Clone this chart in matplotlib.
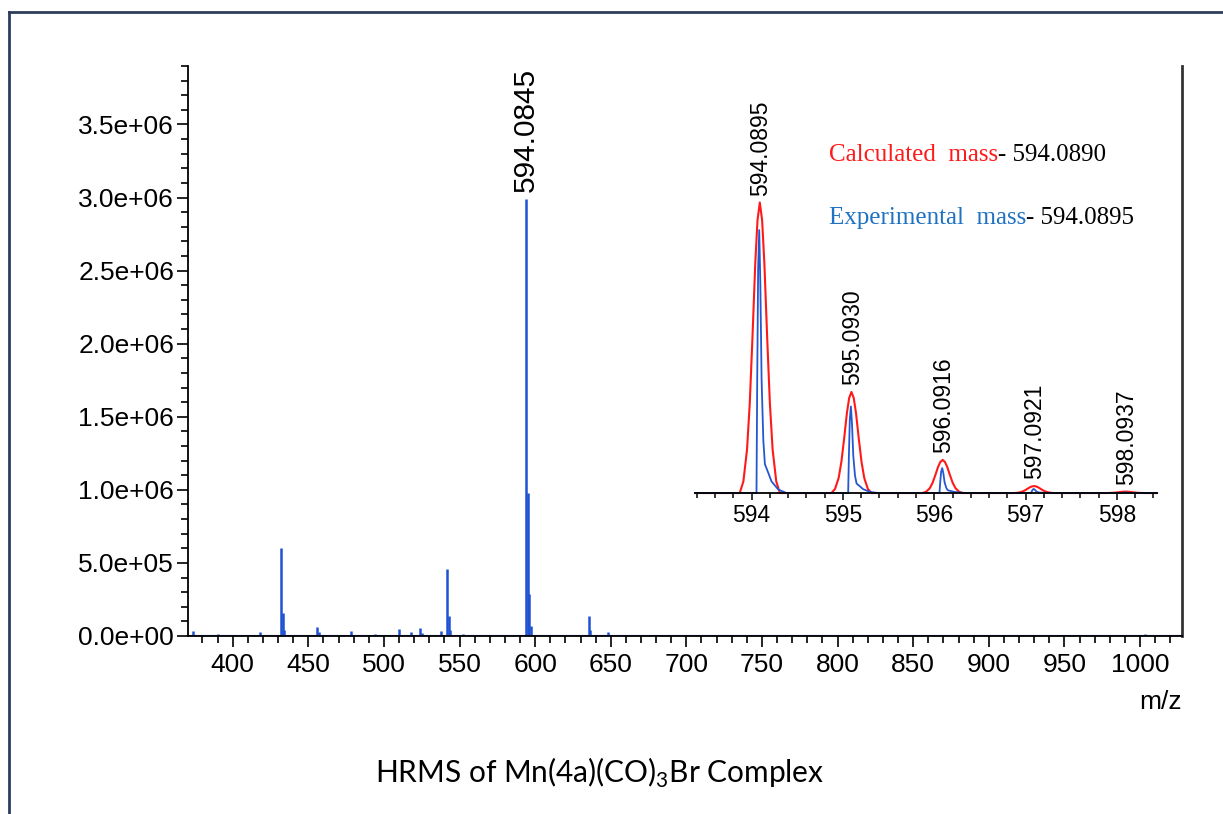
import matplotlib
matplotlib.use('Agg')
import matplotlib.pyplot as plt
from matplotlib.lines import Line2D
from matplotlib.ticker import MultipleLocator, FuncFormatter

# main spectrum (stick peaks), intensities in counts
main_mz = [374, 376, 390, 405, 410, 418, 432, 433, 434, 449, 456, 457,
           478, 494, 510, 518, 524, 525, 538, 542, 543, 544, 552, 569,
           594.08, 595.09, 596.09, 597.09, 617, 622, 635.5, 636.5, 648, 649,
           1003, 1006]
main_int = [0.035e6, 0.01e6, 0.012e6, 0.008e6, 0.01e6, 0.025e6, 0.60e6, 0.16e6, 0.04e6, 0.008e6, 0.06e6, 0.03e6,
            0.032e6, 0.015e6, 0.05e6, 0.025e6, 0.058e6, 0.02e6, 0.033e6, 0.455e6, 0.137e6, 0.04e6, 0.012e6, 0.008e6,
            2.99e6, 0.98e6, 0.29e6, 0.07e6, 0.01e6, 0.01e6, 0.137e6, 0.04e6, 0.03e6, 0.01e6,
            0.012e6, 0.01e6]
main_label = '594.0845'
main_label_mz = 594.08

# inset: isotope pattern (relative intensity, calculated = red, experimental = blue)
iso_labels = ['594.0895', '595.0930', '596.0916', '597.0921', '598.0937']
calc_centers = [594.0895, 595.0930, 596.0916, 597.0921, 598.0937]
calc_heights = [100, 34.8, 11.4, 2.4, 0.5]
exp_centers = [594.083, 595.087, 596.087, 597.09, 598.09]
exp_heights = [90.5, 29.8, 8.6, 1.4, 0.2]

# peak shapes (offset in m/z, fraction of peak height)
calc_shape_dx = [-0.22, -0.18, -0.14, -0.11, -0.08, -0.05, -0.025, 0, 0.025, 0.05, 0.08, 0.11, 0.14, 0.18, 0.22]
calc_shape_f = [0, 0.04, 0.15, 0.31, 0.54, 0.79, 0.94, 1.0, 0.94, 0.79, 0.54, 0.31, 0.15, 0.04, 0]
exp_shape_dx = [-0.03, -0.022, -0.012, 0, 0.012, 0.026, 0.045, 0.062, 0.1, 0.135, 0.21, 0.3]
exp_shape_f = [0, 0.43, 0.85, 1.0, 0.8, 0.43, 0.2, 0.11, 0.076, 0.044, 0.013, 0]

BLUE = '#1f52d3'
INSET_BLUE = '#2457d0'
RED = '#ff1a1a'

plt.rcParams['font.family'] = 'Liberation Sans'
plt.rcParams['mathtext.fontset'] = 'custom'
plt.rcParams['mathtext.rm'] = 'Lato'

fig = plt.figure(figsize=(12.23, 8.14), dpi=100)

# outer frame (left and top edges only)
frame_c = '#2e3d5c'
fig.add_artist(Line2D([0.0074, 0.0074], [0, 0.9853], transform=fig.transFigure, color=frame_c, lw=2))
fig.add_artist(Line2D([0.0074, 1], [0.9853, 0.9853], transform=fig.transFigure, color=frame_c, lw=2))

# main axes
ax = fig.add_axes([0.1537, 0.2187, 0.8128, 0.7002])
ax.vlines(main_mz, 0, main_int, color=BLUE, lw=1.8)
ax.axhline(0, color=BLUE, lw=1.5)
ax.set_xlim(370.4, 1027.8)
ax.set_ylim(0, 3.9e6)

ax.spines['top'].set_visible(False)
ax.spines['right'].set_color('#333333')
ax.spines['right'].set_linewidth(2)
ax.spines['left'].set_linewidth(1.3)
ax.spines['bottom'].set_linewidth(1.3)

ax.xaxis.set_major_locator(MultipleLocator(50))
ax.xaxis.set_minor_locator(MultipleLocator(10))
ax.yaxis.set_major_locator(MultipleLocator(0.5e6))
ax.yaxis.set_minor_locator(MultipleLocator(0.1e6))
ax.yaxis.set_major_formatter(FuncFormatter(lambda v, p: f'{v:.1e}'))
ax.tick_params(which='major', length=8, width=1.2, labelsize=19)
ax.tick_params(which='minor', length=5, width=1.2)
ax.tick_params(axis='x', which='major', pad=4)
ax.tick_params(axis='y', which='major', pad=2)
ax.tick_params(right=False, top=False, which='both')

ax.text(1.0, -0.116, 'm/z', transform=ax.transAxes, ha='right', va='center', fontsize=19)

ax.annotate(main_label, xy=(main_label_mz, max(main_int)), xytext=(0, 5),
            textcoords='offset points', rotation=90, ha='center', va='bottom', fontsize=21.5)

# inset with isotope pattern
ins = fig.add_axes([0.5683, 0.3943, 0.3778, 0.5197])
ins.set_facecolor('none')


def profile(centers, heights, dx, f):
    xs, ys = [593.38], [0]
    for c, h in zip(centers, heights):
        xs += [c + d for d in dx]
        ys += [h * v for v in f]
    xs.append(598.44)
    ys.append(0)
    return xs, ys


cx, cy = profile(calc_centers, calc_heights, calc_shape_dx, calc_shape_f)
ex, ey = profile(exp_centers, exp_heights, exp_shape_dx, exp_shape_f)
ins.plot(cx, cy, color=RED, lw=1.5, clip_on=False)
ins.plot(ex, ey, color=INSET_BLUE, lw=1.3, clip_on=False)
ins.set_xlim(593.38, 598.44)
ins.set_ylim(0, 145.6)

for s in ['top', 'right', 'left']:
    ins.spines[s].set_visible(False)
ins.spines['bottom'].set_linewidth(1.3)
ins.set_yticks([])
ins.xaxis.set_major_locator(MultipleLocator(1))
ins.xaxis.set_minor_locator(MultipleLocator(0.2))
ins.tick_params(which='major', length=5, width=1.1, labelsize=16.5, pad=3)
ins.tick_params(which='minor', length=3.5, width=1.1)

for lab, c, h in zip(iso_labels, calc_centers, calc_heights):
    ins.annotate(lab, xy=(float(lab) + 0.01, h), xytext=(0, 5), textcoords='offset points',
                 rotation=90, ha='center', va='bottom', fontsize=16.5)

# legend-like texts, coloured name followed by black value
t1 = ins.text(0.289, 0.786, 'Calculated  mass', transform=ins.transAxes, color=RED,
              family='Liberation Serif', fontsize=18, va='baseline')
ins.annotate('- 594.0890', xy=(1, 0), xycoords=t1, va='bottom', ha='left',
             family='Liberation Serif', fontsize=18, color='black')
t2 = ins.text(0.289, 0.637, 'Experimental  mass', transform=ins.transAxes, color='#1f72c2',
              family='Liberation Serif', fontsize=18, va='baseline')
ins.annotate('- 594.0895', xy=(1, 0), xycoords=t2, va='bottom', ha='left',
             family='Liberation Serif', fontsize=18, color='black')

# caption
fig.text(0.4906, 0.05, r'HRMS of Mn(4a)(CO)$_{\mathrm{3}}$Br Complex', ha='center', va='center',
         family='Lato', fontsize=21.5)

fig.savefig('out.png', dpi=100)
